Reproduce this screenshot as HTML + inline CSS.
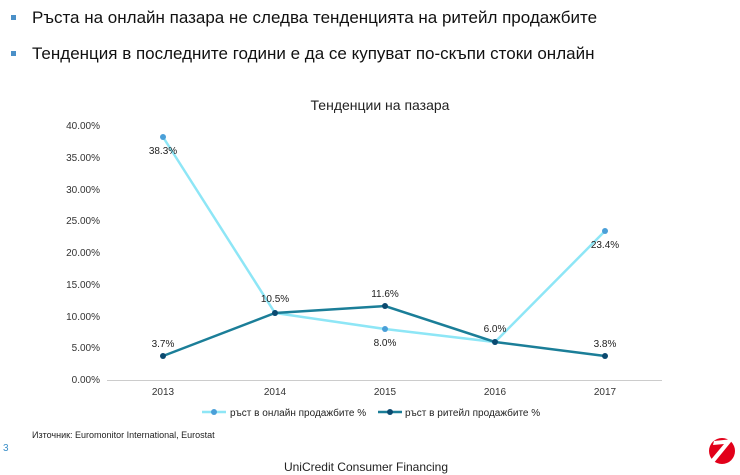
<!DOCTYPE html>
<html><head><meta charset="utf-8"><style>
body{margin:0;width:740px;height:475px;background:#fff;font-family:"Liberation Sans",sans-serif;overflow:hidden;position:relative}
.b{position:absolute;left:14px;font-size:17px;color:#111}
.b i{position:absolute;left:-3px;top:7px;width:5px;height:5px;background:#4a90c8}
.b span{position:absolute;left:18px;white-space:nowrap}
</style></head><body>
<div class="b" style="top:8px"><i></i><span>Ръста на онлайн пазара не следва тенденцията на ритейл продажбите</span></div>
<div class="b" style="top:44px"><i></i><span>Тенденция в последните години е да се купуват по-скъпи стоки онлайн</span></div>
<svg width="740" height="475" style="position:absolute;left:0;top:0" font-family="Liberation Sans,sans-serif">
<text x="380" y="110" font-size="14" text-anchor="middle" fill="#222">Тенденции на пазара</text>
<g font-size="10" fill="#333" text-anchor="end">
<text x="100" y="129">40.00%</text><text x="100" y="161">35.00%</text><text x="100" y="193">30.00%</text><text x="100" y="224">25.00%</text><text x="100" y="256">20.00%</text><text x="100" y="288">15.00%</text><text x="100" y="320">10.00%</text><text x="100" y="351">5.00%</text><text x="100" y="383">0.00%</text>
</g>
<line x1="107" y1="380.5" x2="662" y2="380.5" stroke="#ccc"/>
<g font-size="10" fill="#333" text-anchor="middle">
<text x="163" y="395">2013</text><text x="275" y="395">2014</text><text x="385" y="395">2015</text><text x="495" y="395">2016</text><text x="605" y="395">2017</text>
</g>
<polyline points="163,137 275,313 385,329 495,342 605,231" fill="none" stroke="#8ee6f6" stroke-width="2.5"/>
<polyline points="163,356 275,313 385,306 495,342 605,356" fill="none" stroke="#1b7e98" stroke-width="2.5"/>
<g fill="#4a9fd8"><circle cx="163" cy="137" r="3"/><circle cx="275" cy="313" r="3"/><circle cx="385" cy="329" r="3"/><circle cx="495" cy="342" r="3"/><circle cx="605" cy="231" r="3"/></g>
<g fill="#0b4a70"><circle cx="163" cy="356" r="3"/><circle cx="275" cy="313" r="3"/><circle cx="385" cy="306" r="3"/><circle cx="495" cy="342" r="3"/><circle cx="605" cy="356" r="3"/></g>
<g font-size="10" fill="#222" text-anchor="middle">
<text x="163" y="154">38.3%</text><text x="275" y="302">10.5%</text><text x="385" y="346">8.0%</text><text x="495" y="332">6.0%</text><text x="605" y="248">23.4%</text>
<text x="163" y="347">3.7%</text><text x="385" y="297">11.6%</text><text x="605" y="347">3.8%</text>
</g>
<line x1="202" y1="412" x2="226" y2="412" stroke="#8ee6f6" stroke-width="2.5"/><circle cx="214" cy="412" r="3" fill="#4a9fd8"/>
<text x="230" y="416" font-size="10" fill="#222">ръст в онлайн продажбите %</text>
<line x1="378" y1="412" x2="402" y2="412" stroke="#1b7e98" stroke-width="2.5"/><circle cx="390" cy="412" r="3" fill="#0b4a70"/>
<text x="405" y="416" font-size="10" fill="#222">ръст в ритейл продажбите %</text>
<text x="32" y="438" font-size="9" fill="#222">Източник: Euromonitor International, Eurostat</text>
<text x="3" y="451" font-size="10" fill="#3a8fc8">3</text>
<text x="366" y="471" font-size="12" fill="#222" text-anchor="middle">UniCredit Consumer Financing</text>
<circle cx="722" cy="451" r="13" fill="#e2001a"/>
<path d="M714 441 L733 439 L731 442 L713 464 L709 462 L724 444 L713 445Z" fill="#fff"/>
</svg>
</body></html>
